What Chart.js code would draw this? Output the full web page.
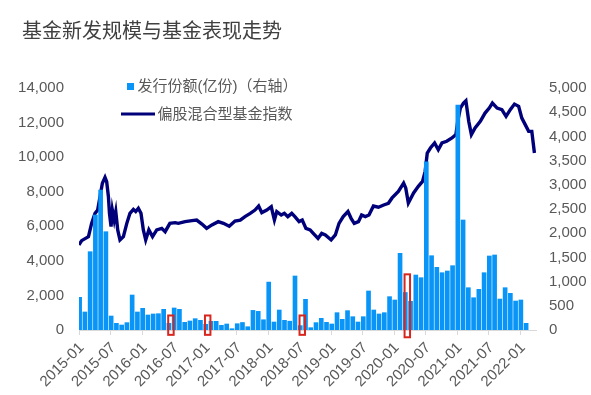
<!DOCTYPE html>
<html><head><meta charset="utf-8">
<script src="https://cdn.jsdelivr.net/npm/chart.js@4/dist/chart.umd.min.js"></script>
<style>html,body{margin:0;padding:0;background:#fff;}canvas{display:block;}</style>
</head><body>
<canvas id="c" width="591" height="395"></canvas>
<script>
const chartTitle = '基金新发规模与基金表现走势';
const barLabel = '发行份额(亿份)（右轴）';
const lineLabel = '偏股混合型基金指数';

// monthly categories 2015-01 .. 2022-03
const categories = [];
for (let y = 2015; y <= 2022; y++) {
  for (let m = 1; m <= 12; m++) {
    if (y === 2022 && m > 3) break;
    categories.push(y + '-' + String(m).padStart(2, '0'));
  }
}

// new fund issuance (亿份), right axis
const issuance = [
  675, 372, 1618, 2376, 2892, 2031, 289, 138, 103, 152, 723, 372,
  448, 310, 331, 337, 427, 138, 455, 427, 158, 186, 234, 200,
  117, 179, 179, 97, 124, 27, 130, 155, 68, 405, 385, 212,
  990, 165, 413, 200, 182, 1116, 90, 634, 48, 152, 241, 158,
  124, 358, 220, 400, 275, 165, 275, 806, 413, 331, 358, 689,
  620, 1584, 775, 592, 1136, 1081, 3477, 1535, 1295, 1184, 1219, 1329,
  4649, 2273, 874, 667, 840, 1184, 1529, 1550, 640, 874, 758, 599,
  620, 138, null
];

// 偏股混合型基金指数 (left axis); time in months since start of 2015-01
const indexMonths = [
  0.0, 0.5, 1.8, 2.4, 3.05, 3.55, 4.0, 4.45, 4.95, 5.27, 5.6, 5.8, 6.1, 6.35, 6.7, 7.0, 7.37, 7.8,
  8.45, 9.1, 9.7, 10.35, 10.8, 11.3, 11.8, 12.25, 12.7, 13.3, 14.0, 14.8, 15.75, 16.4, 17.3, 18.3,
  18.9, 20.2, 21.5, 22.4, 23.4, 24.3, 25.3, 26.5, 27.5, 28.6, 29.7, 30.7, 31.6, 32.6, 33.5, 34.2,
  34.8, 35.75, 36.6, 37.2, 37.65, 38.5, 39.1, 39.75, 40.5, 41.1, 41.9, 42.5, 43.2, 44.0, 44.6, 45.5,
  46.2, 46.9, 48.0, 48.8, 49.5, 50.3, 51.2, 51.8, 52.4, 53.2, 53.8, 54.5, 55.2, 56.05, 57.0, 58.0,
  58.9, 59.6, 60.8, 61.8, 62.2, 62.7, 63.7, 64.6, 65.4, 65.9, 66.3, 66.9, 67.7, 68.4, 69.1, 70.0,
  71.0, 71.75, 72.1, 72.6, 73.2, 73.65, 74.2, 74.7, 75.4, 76.4, 77.3, 78.1, 78.7, 79.6, 80.5, 81.3,
  82.1, 82.9, 83.7, 84.3, 84.95, 85.6, 86.2, 86.7
];
const indexValues = [
  4920, 5170, 5400, 6170, 6750, 6940, 7710, 8490, 8830, 8580, 7710, 6750, 5980, 6940, 6360, 6850, 5790, 5210,
  5400, 6170, 6750, 6980, 6850, 7040, 6750, 5790, 5210, 5790, 5400, 5790, 5880, 5690, 6170, 6210,
  6170, 6270, 6330, 6360, 6130, 5880, 6080, 6270, 6170, 6000, 6300, 6360, 6560, 6750, 6940, 7170,
  6790, 6940, 7130, 6360, 6850, 6650, 6750, 6560, 6750, 6560, 6270, 6360, 5880, 5790, 5590, 5300,
  5590, 5500, 5210, 5500, 6170, 6560, 6850, 6460, 6170, 6270, 6650, 6560, 6650, 7170, 7100, 7230,
  7330, 7640, 8020, 8500, 8220, 7350, 7930, 8310, 8600, 9180, 10240, 10530, 10820, 10430, 10820, 10920,
  11110, 11300, 12070, 12840, 13130, 13260, 12070, 11300, 11690, 12070, 12550, 12840, 13130, 12840, 12750, 12360,
  12750, 13070, 12940, 12260, 11880, 11490, 11490, 10240
];

// red highlight boxes (category, top value, bottom value on right axis)
const boxCats = ['2016-06', '2017-01', '2018-07', '2020-03'];
const boxTop = [300, 300, 300, 1150];
const boxBottom = [-100, -100, -100, -150];

const BAR_COLOR = '#0895F7';
const LINE_COLOR = '#00007A';
const TEXT_COLOR = '#595959';
const RED = '#D8261E';

const isMajor = l => !!l && (l.endsWith('-01') || l.endsWith('-07'));

const decor = {
  id: 'decor',
  afterDatasetsDraw(chart) {
    const ctx = chart.ctx;
    const xs = chart.scales.x, ys = chart.scales.y2;
    const cw = xs.width / categories.length;
    ctx.save();
    ctx.strokeStyle = RED;
    ctx.lineWidth = 2;
    boxCats.forEach((c, i) => {
      const cx = xs.getPixelForValue(categories.indexOf(c));
      const t = ys.getPixelForValue(boxTop[i]);
      const b = ys.getPixelForValue(boxBottom[i]);
      ctx.strokeRect(cx - cw * 0.52, t, cw * 1.04, b - t);
    });
    ctx.restore();
  },
  afterDraw(chart) {
    const ctx = chart.ctx;
    ctx.save();
    ctx.fillStyle = '#404040';
    ctx.font = '20px "Noto Sans CJK SC", sans-serif';
    ctx.textBaseline = 'middle';
    ctx.textAlign = 'left';
    ctx.fillText(chartTitle, 22, 30);
    // legend
    ctx.fillStyle = BAR_COLOR;
    ctx.fillRect(127, 83, 7, 7);
    ctx.strokeStyle = LINE_COLOR;
    ctx.lineWidth = 3;
    ctx.beginPath();
    ctx.moveTo(121, 114);
    ctx.lineTo(155, 114);
    ctx.stroke();
    ctx.fillStyle = TEXT_COLOR;
    ctx.font = '15px "Liberation Sans", "Noto Sans CJK SC", sans-serif';
    ctx.fillText(barLabel, 137.5, 87);
    ctx.fillText(lineLabel, 157.5, 114.5);
    ctx.restore();
  }
};

Chart.defaults.font.family = '"Liberation Sans", Arial, sans-serif';
Chart.defaults.color = TEXT_COLOR;

new Chart(document.getElementById('c'), {
  type: 'bar',
  data: {
    labels: categories,
    datasets: [
      {
        type: 'bar',
        label: barLabel,
        data: issuance,
        xAxisID: 'x',
        yAxisID: 'y2',
        backgroundColor: BAR_COLOR,
        barThickness: 4,
        order: 0
      },
      {
        type: 'line',
        label: lineLabel,
        data: indexMonths.map((m, i) => ({ x: m, y: indexValues[i] })),
        xAxisID: 'xl',
        yAxisID: 'y',
        borderColor: LINE_COLOR,
        borderWidth: 3.4,
        pointRadius: 0,
        tension: 0,
        fill: false,
        order: 1
      }
    ]
  },
  options: {
    responsive: false,
    animation: false,
    devicePixelRatio: 1,
    layout: { padding: { top: 88, left: 0, right: 0, bottom: 0 } },
    plugins: { legend: { display: false }, tooltip: { enabled: false }, title: { display: false } },
    scales: {
      x: {
        type: 'category',
        offset: true,
        grid: {
          display: true,
          offset: true,
          drawOnChartArea: false,
          drawTicks: true,
          tickLength: 5,
          color: c => isMajor(categories[c.index]) ? '#D9D9D9' : 'rgba(0,0,0,0)'
        },
        border: { display: true, color: '#D9D9D9', width: 1 },
        ticks: {
          autoSkip: false,
          minRotation: 45,
          maxRotation: 45,
          padding: 4,
          font: { size: 15 },
          color: TEXT_COLOR,
          callback: (v, i) => isMajor(categories[i]) ? categories[i] : ''
        },
        afterFit: s => { s.height = 65; }
      },
      xl: {
        type: 'linear',
        display: false,
        offset: false,
        bounds: 'ticks',
        min: 0,
        max: categories.length,
        grid: { offset: false }
      },
      y: {
        position: 'left',
        min: 0,
        max: 14000,
        grid: { display: false, drawTicks: false },
        border: { display: false },
        ticks: {
          stepSize: 2000,
          padding: 15,
          font: { size: 15 },
          color: TEXT_COLOR,
          callback: v => v.toLocaleString('en-US')
        },
        afterFit: s => { s.width = 79; }
      },
      y2: {
        position: 'right',
        min: 0,
        max: 5000,
        grid: { display: false, drawTicks: false },
        border: { display: false },
        ticks: {
          stepSize: 500,
          padding: 13,
          font: { size: 15 },
          color: TEXT_COLOR,
          callback: v => v.toLocaleString('en-US')
        },
        afterFit: s => { s.width = 55; }
      }
    }
  },
  plugins: [decor]
});
</script>
</body></html>
